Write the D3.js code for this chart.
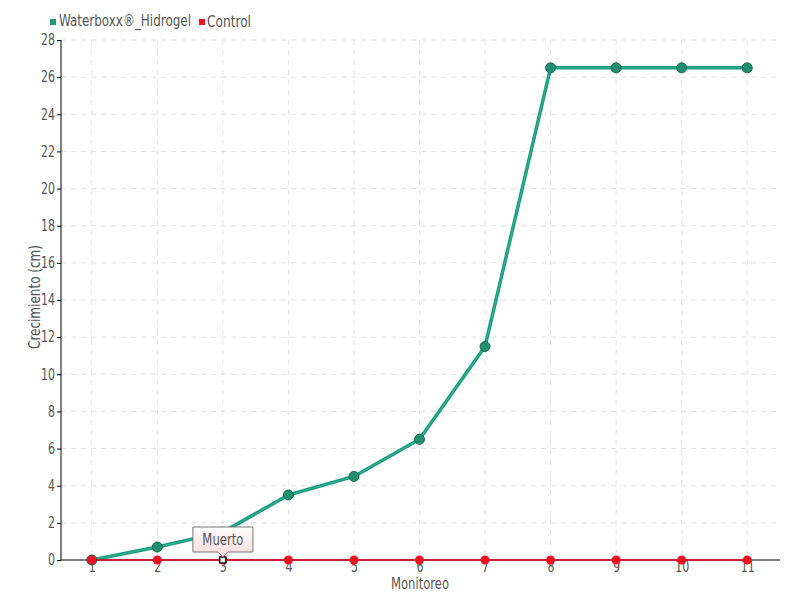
<!DOCTYPE html>
<html><head><meta charset="utf-8">
<script src="https://cdn.jsdelivr.net/npm/d3@7/dist/d3.min.js"></script>
<style>
body{margin:0;background:#fff;}
text{font-family:"DejaVu Sans Condensed","DejaVu Sans",sans-serif;font-stretch:condensed;fill:#555;}
</style></head>
<body><svg id="c" width="800" height="600"></svg>
<script>
const categories = ["1","2","3","4","5","6","7","8","9","10","11"];
const waterboxx = [0, 0.7, 1.5, 3.5, 4.5, 6.5, 11.5, 26.5, 26.5, 26.5, 26.5];
const control = [0, 0, 0, 0, 0, 0, 0, 0, 0, 0, 0];
const yTicks = [0,2,4,6,8,10,12,14,16,18,20,22,24,26,28];
const seriesNames = ["Waterboxx®_Hidrogel", "Control"];
const tooltipText = "Muerto";
const tooltipIndex = 2;

const FS = 15;
const svg = d3.select("#c");
const x = d3.scalePoint().domain(categories).range([59, 780]).padding(0.5);
const y = d3.scaleLinear().domain([0, 28]).range([560, 40]);
function narrow(sel, perChar) {
  sel.each(function() {
    const t = d3.select(this);
    t.attr("textLength", t.text().length * perChar).attr("lengthAdjust", "spacingAndGlyphs");
  });
}

// grid
const g = svg.append("g");
g.selectAll(".hg").data(yTicks.slice(1)).enter().append("line")
  .attr("x1", 61).attr("x2", 780).attr("y1", d=>y(d)).attr("y2", d=>y(d))
  .attr("stroke", "#e3e3e3").attr("stroke-dasharray", "5,5");
g.selectAll(".vg").data(categories).enter().append("line")
  .attr("x1", d=>x(d)).attr("x2", d=>x(d)).attr("y1", 40).attr("y2", 560)
  .attr("stroke", "#e3e3e3").attr("stroke-dasharray", "5,5");

// y axis
const ya = svg.append("g").attr("transform", "translate(61,0)")
  .call(d3.axisLeft(y).tickValues(yTicks).tickSize(4).tickPadding(2));
ya.select(".domain").attr("stroke", "#000").attr("d", "M0,40V560");
ya.selectAll("text").attr("font-size", FS).attr("fill", "#555").call(narrow, 7);
ya.selectAll(".tick line").attr("stroke", "#000");

// x axis
const xa = svg.append("g").attr("transform", "translate(0,560)")
  .call(d3.axisBottom(x).tickSize(0).tickPadding(1));
xa.select(".domain").attr("stroke", "#000").attr("d", "M61,0H780");
xa.selectAll("text").attr("font-size", FS).attr("fill", "#555").call(narrow, 7);

// titles
svg.append("text").attr("x", 420).attr("y", 589).attr("text-anchor", "middle")
  .attr("font-size", FS).attr("textLength", 58).attr("lengthAdjust", "spacingAndGlyphs").text("Monitoreo");
svg.append("text").attr("transform", "translate(40,297) rotate(-90)").attr("text-anchor", "middle")
  .attr("font-size", FS).attr("textLength", 104).attr("lengthAdjust", "spacingAndGlyphs").text("Crecimiento (cm)");

// legend
const leg = svg.append("g");
leg.append("rect").attr("x", 50).attr("y", 19).attr("width", 6).attr("height", 6).attr("fill", "#1a9b7f");
leg.append("text").attr("x", 59).attr("y", 26).attr("font-size", FS)
  .attr("textLength", 132).attr("lengthAdjust", "spacingAndGlyphs").text(seriesNames[0]);
leg.append("rect").attr("x", 199).attr("y", 19).attr("width", 6).attr("height", 6).attr("fill", "#ee1122");
leg.append("text").attr("x", 207).attr("y", 27).attr("font-size", FS)
  .attr("textLength", 44).attr("lengthAdjust", "spacingAndGlyphs").text(seriesNames[1]);

// waterboxx line
const line = d3.line().x((d,i)=>x(categories[i])).y(d=>y(d));
svg.append("path").datum(waterboxx).attr("d", line).attr("fill", "none")
  .attr("stroke", "#1a9b7f").attr("stroke-width", 3.5).attr("stroke-linejoin", "round");
svg.append("path").datum(waterboxx).attr("d", line).attr("fill", "none")
  .attr("stroke", "#4fc0a4").attr("stroke-width", 0.8).attr("opacity", 0.7);
svg.selectAll(".wp").data(waterboxx).enter().append("circle")
  .attr("cx", (d,i)=>x(categories[i])).attr("cy", d=>y(d)).attr("r", 5)
  .attr("fill", "#1f8f6f").attr("stroke", "#17664f").attr("stroke-width", 1);

// control line
svg.append("path").datum(control).attr("d", line).attr("fill", "none")
  .attr("stroke", "#e0001a").attr("stroke-width", 1.3);
svg.selectAll(".cp").data(control).enter().append("circle")
  .attr("cx", (d,i)=>x(categories[i])).attr("cy", d=>y(d)).attr("r", 4.5)
  .attr("fill", "#ee1122");
// highlighted marker
const hx = x(categories[tooltipIndex]), hy = y(control[tooltipIndex]);
svg.append("rect").attr("x", hx-3).attr("y", hy-3).attr("width", 6).attr("height", 6)
  .attr("fill", "#fff").attr("stroke", "#000").attr("stroke-width", 1.3);

// tooltip
const defs = svg.append("defs");
const grad = defs.append("linearGradient").attr("id", "tg").attr("x1", 0).attr("x2", 0).attr("y1", 0).attr("y2", 1);
grad.append("stop").attr("offset", "0%").attr("stop-color", "#ffffff");
grad.append("stop").attr("offset", "100%").attr("stop-color", "#fdd8d8");
const bx0 = hx - 30, bx1 = hx + 30, by0 = hy - 33, by1 = hy - 8;
svg.append("path")
  .attr("d", `M${bx0},${by0}H${bx1}V${by1}H${hx+5}L${hx},${hy-3}L${hx-5},${by1}H${bx0}Z`)
  .attr("fill", "url(#tg)").attr("stroke", "#777").attr("stroke-width", 1);
svg.append("text").attr("x", hx).attr("y", by0 + 18).attr("text-anchor", "middle")
  .attr("font-size", FS).attr("textLength", 41).attr("lengthAdjust", "spacingAndGlyphs").text(tooltipText);
</script></body></html>
